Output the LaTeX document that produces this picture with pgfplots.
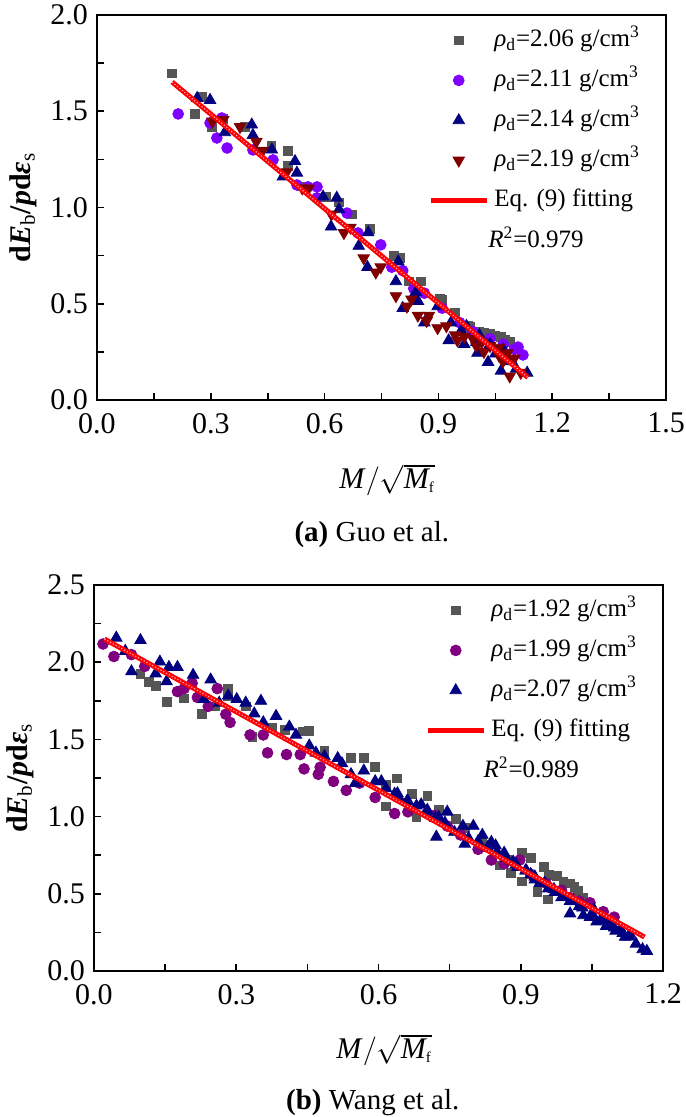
\documentclass[border=0pt]{standalone}
\usepackage{pgfplots}
\pgfplotsset{compat=1.18}
\usepackage{fontspec}
\setmainfont{Liberation Serif}

\definecolor{sqgray}{HTML}{555555}
\definecolor{violetA}{HTML}{8000FF}
\definecolor{purpleB}{HTML}{800080}
\definecolor{navyC}{HTML}{000080}
\definecolor{darkredD}{HTML}{800000}
\definecolor{fitred}{HTML}{FF0000}
\definecolor{fitdot}{HTML}{FF9FC0}

\pgfplotsset{
  panel/.style={
    scale only axis,
    width=284.5pt,
    axis line style={line width=1pt},
    tick align=inside,
    xtick pos=left, ytick pos=left,
    major tick length=3.5pt, minor tick length=3.5pt,
    tick style={line width=0.8pt, black},
    minor x tick num=1, minor y tick num=1,
    tick label style={font=\fontsize{15}{18}\selectfont},
    /pgf/number format/assume math mode=true,
    xticklabel={\pgfmathprintnumber[fixed,fixed zerofill,precision=1]{\tick}},
    yticklabel={\pgfmathprintnumber[fixed,fixed zerofill,precision=1]{\tick}},
    xticklabel style={yshift=-3pt},
    yticklabel style={xshift=-1pt},
    label style={font=\fontsize{15}{18}\selectfont},
    ylabel shift=0pt,
    ylabel={\bfseries d\textit{E}\textsubscript{\mdseries b}/\textit{p}d\textit{ε}\textsubscript{\mdseries s}},
    xlabel={\textit{M}$\big/\sqrt{\textit{M}_{\scriptscriptstyle\mathrm{f}}}$},
    clip mode=individual,
    legend cell align=left,
    legend style={draw=none, fill=none, inner sep=0pt, column sep=1.5pt,
      row sep=6pt, anchor=north west,
      font=\fontsize{12.5}{15}\selectfont,
      nodes={inner sep=1pt, text height=9pt, text depth=3pt}},
  },
  pts/.style={only marks, mark options={draw=#1, fill=#1}, color=#1,
    legend image code/.code={\draw[mark repeat=2,mark phase=2,##1] plot coordinates {(0pt,0pt) (14pt,0pt) (28pt,0pt)};}},
  fitline/.style={fitred, line width=2.5pt, no marks,
    legend image code/.code={\draw[##1] (0pt,0pt) -- (28pt,0pt);}},
}

\begin{document}
\begin{tikzpicture}
\path[use as bounding box] (-48.5pt,-358.5pt) rectangle (294pt,200pt);

% (a) Guo et al.
\begin{axis}[panel, at={(0pt,0pt)}, anchor=south west,
    height=192.5pt,
    xmin=0, xmax=1.5, ymin=0, ymax=2,
    xtick={0,0.3,0.6,0.9,1.2,1.5}, ytick={0,0.5,1,1.5,2},
    xlabel style={at={(rel axis cs:0.51,0)}, anchor=center, yshift=-40pt},
    legend style={at={(rel axis cs:0.585,1)}, xshift=-1pt, yshift=-5.5pt},
  ]
  \addplot[pts=sqgray, mark=square*, mark size=2.2pt] coordinates {
    (0.198,1.697) (0.258,1.486) (0.278,1.575) (0.302,1.420) (0.333,1.460)
    (0.390,1.417) (0.460,1.318) (0.504,1.292) (0.504,1.218) (0.540,1.110)
    (0.604,1.054) (0.638,1.026) (0.673,0.964) (0.719,0.890) (0.783,0.750)
    (0.800,0.737) (0.823,0.616) (0.854,0.616) (0.904,0.525) (0.910,0.518)
    (0.944,0.452) (0.979,0.384) (0.983,0.380) (1.008,0.356) (1.020,0.350)
    (1.036,0.346) (1.050,0.335) (1.065,0.328) (1.075,0.315) (1.088,0.300)
    (1.111,0.263)
  };
  \addlegendentry{\textit{ρ}\textsubscript{d}=2.06 g/cm\textsuperscript{3}}
  \addplot[pts=violetA, mark=*, mark size=2.7pt] coordinates {
    (0.214,1.486) (0.298,1.439) (0.316,1.361) (0.329,1.465) (0.343,1.309)
    (0.411,1.299) (0.464,1.247) (0.527,1.117) (0.556,1.107) (0.580,1.107)
    (0.580,1.050) (0.659,0.971) (0.688,0.868) (0.748,0.806) (0.777,0.690)
    (0.806,0.672) (0.835,0.579) (0.863,0.555) (0.910,0.477) (0.956,0.402)
    (0.990,0.356) (1.036,0.318) (1.071,0.290) (1.100,0.263) (1.110,0.275)
    (1.123,0.234)
  };
  \addlegendentry{\textit{ρ}\textsubscript{d}=2.11 g/cm\textsuperscript{3}}
  \addplot[pts=navyC, mark=triangle*, mark size=3.3pt] coordinates {
    (0.264,1.568) (0.298,1.558) (0.337,1.390) (0.408,1.430) (0.411,1.376)
    (0.461,1.300) (0.490,1.160) (0.522,1.240) (0.527,1.180) (0.596,1.056)
    (0.632,1.050) (0.638,0.990) (0.617,0.900) (0.690,0.800) (0.715,0.870)
    (0.713,0.690) (0.788,0.616) (0.794,0.719) (0.806,0.477) (0.840,0.560)
    (0.846,0.514) (0.863,0.402) (0.898,0.486) (0.927,0.309) (0.933,0.402)
    (0.960,0.360) (0.968,0.290) (0.974,0.384) (1.000,0.300) (1.003,0.244)
    (1.008,0.337) (1.031,0.197) (1.036,0.290) (1.050,0.240) (1.065,0.151)
    (1.071,0.263) (1.090,0.200) (1.105,0.162) (1.134,0.141)
  };
  \addlegendentry{\textit{ρ}\textsubscript{d}=2.14 g/cm\textsuperscript{3}}
  \addplot[pts=darkredD, mark=triangle*, mark size=3.3pt, mark options={rotate=180}] coordinates {
    (0.304,1.447) (0.333,1.456) (0.377,1.419) (0.420,1.342) (0.437,1.296)
    (0.500,1.184) (0.541,1.100) (0.558,1.100) (0.618,0.964) (0.651,0.868)
    (0.668,0.896) (0.703,0.737) (0.735,0.663) (0.748,0.690) (0.788,0.540)
    (0.817,0.486) (0.829,0.523) (0.846,0.439) (0.869,0.411) (0.875,0.439)
    (0.898,0.374) (0.921,0.384) (0.944,0.337) (0.950,0.310) (0.968,0.328)
    (0.991,0.318) (1.000,0.280) (1.014,0.300) (1.020,0.250) (1.036,0.281)
    (1.059,0.272) (1.060,0.230) (1.070,0.200) (1.082,0.244) (1.088,0.123)
    (1.100,0.216) (1.117,0.142)
  };
  \addlegendentry{\textit{ρ}\textsubscript{d}=2.19 g/cm\textsuperscript{3}}
  \addplot[fitline] coordinates {(0.198,1.652) (1.136,0.117)};
  \addlegendentry{Eq. (9) fitting}
  \addplot[fitdot, line width=0.6pt, densely dotted, forget plot] coordinates {(0.198,1.652) (1.136,0.117)};
  \node[anchor=west, font=\fontsize{12.5}{15}\selectfont, inner sep=0pt] at (rel axis cs:0.687,0.423) {\textit{R}\textsuperscript{2}=0.979};
  \node[font=\fontsize{14.5}{17}\selectfont] at (rel axis cs:0.483,-0.35) {\textbf{(a)} Guo et al.};
\end{axis}

% (b) Wang et al.
\begin{axis}[panel, at={(-1.5pt,-285.5pt)}, anchor=south west,
    height=193pt,
    xmin=0, xmax=1.2, ymin=0, ymax=2.5,
    xtick={0,0.3,0.6,0.9,1.2}, ytick={0,0.5,1,1.5,2,2.5},
    xlabel style={at={(rel axis cs:0.51,0)}, anchor=center, yshift=-39.5pt},
    legend style={at={(rel axis cs:0.585,1)}, xshift=-1pt, yshift=-5.5pt},
  ]
  \addplot[pts=sqgray, mark=square*, mark size=2.2pt] coordinates {
    (0.098,1.922) (0.116,1.875) (0.130,1.848) (0.153,1.744) (0.190,1.765)
    (0.227,1.663) (0.255,1.714) (0.283,1.825) (0.283,1.783) (0.320,1.714)
    (0.334,1.517) (0.375,1.575) (0.403,1.563) (0.440,1.552) (0.454,1.556)
    (0.486,1.425) (0.542,1.378) (0.570,1.378) (0.593,1.320) (0.616,1.205)
    (0.639,1.247) (0.616,1.066) (0.671,1.147) (0.680,1.000) (0.703,1.136)
    (0.727,1.043) (0.764,0.985) (0.782,0.927) (0.819,0.835) (0.830,0.800)
    (0.856,0.684) (0.870,0.720) (0.879,0.638) (0.902,0.765) (0.921,0.730)
    (0.902,0.580) (0.935,0.510) (0.948,0.672) (0.958,0.464) (0.960,0.620)
    (0.976,0.614) (0.990,0.580) (1.004,0.568) (1.013,0.545) (1.020,0.520)
    (1.032,0.476)
  };
  \addlegendentry{\textit{ρ}\textsubscript{d}=1.92 g/cm\textsuperscript{3}}
  \addplot[pts=purpleB, mark=*, mark size=2.7pt] coordinates {
    (0.019,2.118) (0.042,2.037) (0.079,2.049) (0.107,1.973) (0.176,1.810)
    (0.190,1.829) (0.207,1.864) (0.218,1.772) (0.241,1.714) (0.260,1.829)
    (0.278,1.663) (0.287,1.610) (0.329,1.529) (0.357,1.529) (0.366,1.413)
    (0.406,1.402) (0.435,1.402) (0.443,1.309) (0.473,1.274) (0.477,1.320)
    (0.505,1.228) (0.532,1.170) (0.560,1.217) (0.593,1.124) (0.634,1.020)
    (0.662,1.031) (0.718,1.008) (0.745,0.939) (0.773,0.881) (0.810,0.788)
    (0.838,0.719) (0.865,0.696) (0.898,0.719) (0.921,0.627) (0.953,0.569)
    (0.986,0.523) (1.004,0.476) (1.023,0.453) (1.046,0.442) (1.074,0.384)
    (1.097,0.349)
  };
  \addlegendentry{\textit{ρ}\textsubscript{d}=1.99 g/cm\textsuperscript{3}}
  \addplot[pts=navyC, mark=triangle*, mark size=3.3pt] coordinates {
    (0.047,2.158) (0.066,2.072) (0.079,1.940) (0.098,2.142) (0.130,1.926)
    (0.139,2.003) (0.158,1.968) (0.176,1.968) (0.153,1.875) (0.209,1.917)
    (0.232,1.760) (0.246,1.887) (0.264,1.737) (0.283,1.783) (0.301,1.760)
    (0.320,1.737) (0.338,1.667) (0.352,1.749) (0.357,1.610) (0.384,1.651)
    (0.412,1.582) (0.426,1.529) (0.454,1.459) (0.468,1.413) (0.486,1.390)
    (0.514,1.378) (0.523,1.344) (0.542,1.274) (0.551,1.217) (0.569,1.297)
    (0.593,1.228) (0.606,1.228) (0.616,1.182) (0.634,1.147) (0.640,1.150)
    (0.643,1.124) (0.660,1.100) (0.662,1.101) (0.680,1.070) (0.690,1.078)
    (0.700,1.030) (0.703,1.043) (0.720,0.990) (0.722,0.869) (0.727,0.997)
    (0.740,0.960) (0.745,1.031) (0.760,0.900) (0.778,0.939) (0.782,0.823)
    (0.790,0.860) (0.800,0.939) (0.810,0.840) (0.819,0.881) (0.830,0.800)
    (0.838,0.835) (0.847,0.812) (0.850,0.770) (0.865,0.765) (0.870,0.730)
    (0.884,0.708) (0.890,0.690) (0.893,0.673) (0.910,0.650) (0.912,0.650)
    (0.921,0.627) (0.930,0.592) (0.930,0.610) (0.940,0.569) (0.950,0.570)
    (0.958,0.534) (0.970,0.530) (0.972,0.511) (0.986,0.476) (0.990,0.490)
    (1.004,0.372) (1.004,0.453) (1.010,0.450) (1.023,0.418) (1.030,0.410)
    (1.032,0.360) (1.046,0.349) (1.050,0.370) (1.055,0.395) (1.060,0.320)
    (1.069,0.326) (1.070,0.340) (1.080,0.290) (1.083,0.303) (1.090,0.300)
    (1.097,0.280) (1.100,0.260) (1.110,0.270) (1.115,0.245) (1.120,0.220)
    (1.129,0.222) (1.130,0.240) (1.143,0.176) (1.157,0.140) (1.166,0.129)
  };
  \addlegendentry{\textit{ρ}\textsubscript{d}=2.07 g/cm\textsuperscript{3}}
  \addplot[fitline] coordinates {(0.022,2.150) (1.161,0.220)};
  \addlegendentry{Eq. (9) fitting}
  \addplot[fitdot, line width=0.6pt, densely dotted, forget plot] coordinates {(0.022,2.150) (1.161,0.220)};
  \node[anchor=west, font=\fontsize{12.5}{15}\selectfont, inner sep=0pt] at (rel axis cs:0.684,0.528) {\textit{R}\textsuperscript{2}=0.989};
  \node[font=\fontsize{14.5}{17}\selectfont] at (rel axis cs:0.49,-0.342) {\textbf{(b)} Wang et al.};
\end{axis}
\end{tikzpicture}
\end{document}
